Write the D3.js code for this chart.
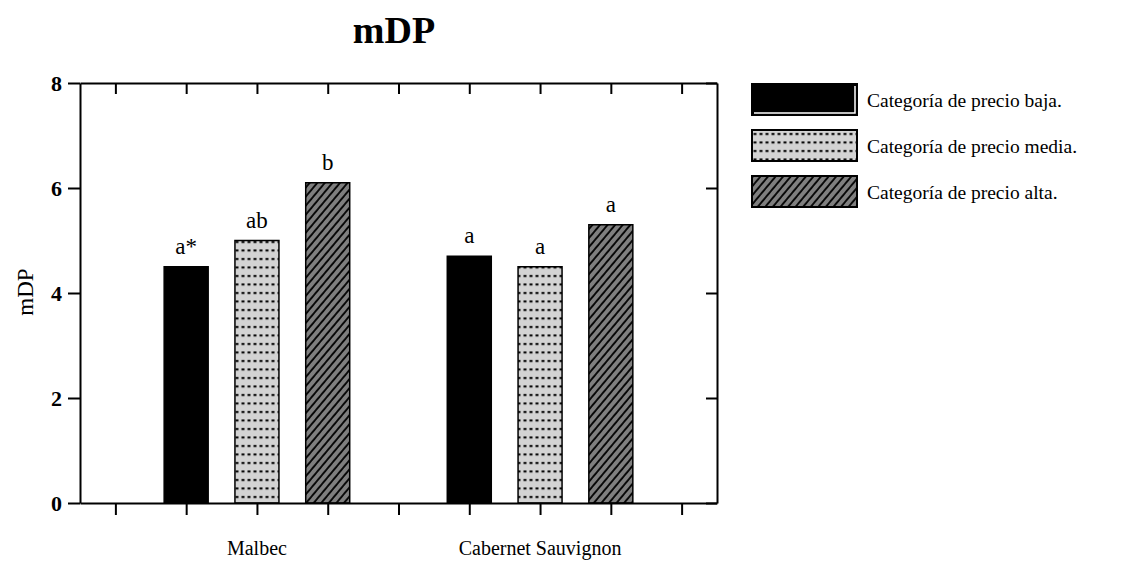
<!DOCTYPE html>
<html>
<head>
<meta charset="utf-8">
<script src="https://cdn.jsdelivr.net/npm/d3@7"></script>
<style>
  body { margin: 0; background: #fff; }
  text { font-family: "Liberation Serif", "Times New Roman", serif; fill: #000; }
</style>
</head>
<body>
<div id="chart"></div>
<script>
var width = 1127;
var height = 576;

// data
var categories = ["Malbec", "Cabernet Sauvignon"];
var seriesNames = ["Categoría de precio baja.", "Categoría de precio media.", "Categoría de precio alta."];
var baja = [4.5, 4.7];
var media = [5.0, 4.5];
var alta = [6.1, 5.3];
var letrasBaja = ["a*", "a"];
var letrasMedia = ["ab", "a"];
var letrasAlta = ["b", "a"];
var yTicks = [0, 2, 4, 6, 8];

var seriesValues = [baja, media, alta];
var seriesLetters = [letrasBaja, letrasMedia, letrasAlta];
var fills = ["#000", "url(#dots)", "url(#hatch)"];

// flat list of bars: slot index on a 9 slot axis
var bars = [];
categories.forEach(function(c, g){
    seriesValues.forEach(function(vals, s){
        bars.push({ slot: 1 + g * 4 + s, value: vals[g], letter: seriesLetters[s][g], s: s });
    });
});

// plot box (note: "top" is reserved on window, so use other names)
var plotLeft = 80, plotRight = 717, plotTop = 83, plotBottom = 503;
var x = d3.scaleLinear().domain([-0.5, 8.5]).range([plotLeft, plotRight]);
var y = d3.scaleLinear().domain([0, 8]).range([plotBottom, plotTop]);
var barW = 44;

var svg = d3.select("#chart").append("svg")
    .attr("width", width)
    .attr("height", height);

// patterns
var defs = svg.append("defs");
var dots = defs.append("pattern")
    .attr("id", "dots")
    .attr("patternUnits", "userSpaceOnUse")
    .attr("width", 6).attr("height", 8.5);
dots.append("rect").attr("width", 6).attr("height", 8.5).attr("fill", "#d3d3d3");
dots.append("rect").attr("x", 1.5).attr("y", 3).attr("width", 3).attr("height", 2).attr("fill", "#000");

var hatch = defs.append("pattern")
    .attr("id", "hatch")
    .attr("patternUnits", "userSpaceOnUse")
    .attr("width", 5.8).attr("height", 10)
    .attr("patternTransform", "rotate(40)");
hatch.append("rect").attr("width", 5.8).attr("height", 10).attr("fill", "#7f7f7f");
hatch.append("line").attr("x1", 1).attr("x2", 1).attr("y1", 0).attr("y2", 10)
    .attr("stroke", "#000").attr("stroke-width", 1.8);

// title
svg.append("text")
    .attr("x", 394).attr("y", 43)
    .attr("text-anchor", "middle")
    .style("font-size", "38px").style("font-weight", "bold")
    .text("mDP");

// y label
svg.append("text")
    .attr("transform", "translate(33,292) rotate(-90)")
    .attr("text-anchor", "middle")
    .style("font-size", "23px")
    .text("mDP");

// bars
svg.append("g").selectAll("rect")
    .data(bars)
    .enter()
        .append("rect")
        .attr("x", function(d){ return x(d.slot) - barW / 2; })
        .attr("y", function(d){ return y(d.value); })
        .attr("width", barW)
        .attr("height", function(d){ return y(0) - y(d.value); })
        .attr("fill", function(d){ return fills[d.s]; })
        .attr("stroke", "#000")
        .attr("stroke-width", 1.5);

// significance letters
svg.append("g").selectAll("text")
    .data(bars)
    .enter()
        .append("text")
        .attr("x", function(d){ return x(d.slot); })
        .attr("y", function(d){ return y(d.value) - 13; })
        .attr("text-anchor", "middle")
        .style("font-size", "23px")
        .text(function(d){ return d.letter; });

// axes
var slots = d3.range(9);
var gLeft = svg.append("g").attr("transform", "translate(" + plotLeft + ",0)")
    .call(d3.axisLeft(y).tickValues(yTicks).tickSize(12).tickSizeOuter(0).tickPadding(6));
gLeft.selectAll("text").style("font-size", "22px").style("font-weight", "bold")
    .style("font-family", "'Liberation Serif', serif");

var gRight = svg.append("g").attr("transform", "translate(" + plotRight + ",0)")
    .call(d3.axisRight(y).tickValues(yTicks).tickSize(-11).tickSizeOuter(0).tickFormat(""));

var gBottom = svg.append("g").attr("transform", "translate(0," + plotBottom + ")")
    .call(d3.axisBottom(x).tickValues(slots).tickSize(12).tickSizeOuter(0).tickFormat(""));

var gTop = svg.append("g").attr("transform", "translate(0," + plotTop + ")")
    .call(d3.axisTop(x).tickValues(slots).tickSize(-11).tickSizeOuter(0).tickFormat(""));

svg.selectAll(".domain, .tick line").attr("stroke", "#000").attr("stroke-width", 2);

// category labels
svg.append("g").selectAll("text")
    .data(categories)
    .enter()
        .append("text")
        .attr("x", function(d, i){ return x(2 + i * 4); })
        .attr("y", 555)
        .attr("text-anchor", "middle")
        .style("font-size", "20px")
        .text(function(d){ return d; });

// legend
var legend = svg.append("g").attr("transform", "translate(752,0)");
var legendY = [84, 130, 176];
var items = legend.selectAll("g")
    .data(seriesNames)
    .enter()
        .append("g")
        .attr("transform", function(d, i){ return "translate(0," + legendY[i] + ")"; });

items.append("rect")
    .attr("width", 105).attr("height", 31)
    .attr("fill", function(d, i){ return fills[i]; })
    .attr("stroke", "#000").attr("stroke-width", 2);

// white inner edge on the black box
legend.append("polyline")
    .attr("points", "2," + (legendY[0] + 29) + " 103," + (legendY[0] + 29) + " 103," + (legendY[0] + 2))
    .attr("fill", "none").attr("stroke", "#fff").attr("stroke-width", 1.5);

items.append("text")
    .attr("x", 115).attr("y", 16)
    .attr("dy", "0.35em")
    .style("font-size", "19.5px")
    .text(function(d){ return d; });
</script>
</body>
</html>
